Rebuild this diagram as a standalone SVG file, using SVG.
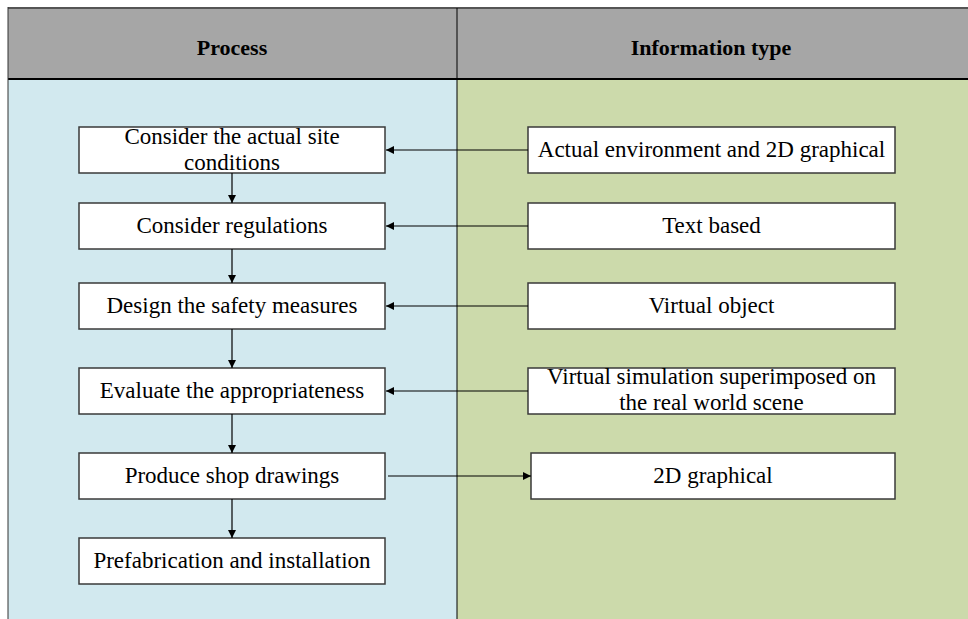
<svg xmlns="http://www.w3.org/2000/svg" width="968" height="619" viewBox="0 0 968 619">
  <style>
    .hdr { font-family: "Liberation Serif", "Times New Roman", serif; font-size: 22px; font-weight: bold; fill: #000; text-anchor: middle; }
    .lbl { font-family: "Liberation Serif", "Times New Roman", serif; font-size: 23px; fill: #000; text-anchor: middle; }
    .box { fill: #ffffff; stroke: #3a3a3a; stroke-width: 1.5; }
    .conn { stroke: #000; stroke-width: 1.2; fill: none; }
  </style>
  <defs>
    <marker id="arrow" viewBox="0 0 10 10" refX="10" refY="5" markerWidth="9" markerHeight="8" markerUnits="userSpaceOnUse" orient="auto">
      <path d="M0,0 L10,5 L0,10 Z" fill="#000"/>
    </marker>
  </defs>

  <!-- swimlane background -->
  <g id="lanes">
    <rect x="8" y="8" width="960" height="71" fill="#a6a6a6"/>
    <rect x="8" y="79" width="449" height="540" fill="#d2e9ef"/>
    <rect x="457" y="79" width="511" height="540" fill="#ccdaab"/>
    <line x1="8" y1="8" x2="968" y2="8" stroke="#555" stroke-width="2"/>
    <line x1="8" y1="79" x2="968" y2="79" stroke="#000" stroke-width="2"/>
    <line x1="8" y1="7" x2="8" y2="619" stroke="#333" stroke-width="1"/>
    <line x1="457" y1="8" x2="457" y2="619" stroke="#000" stroke-width="1"/>
    <text class="hdr" x="232" y="55">Process</text>
    <text class="hdr" x="711" y="55">Information type</text>
  </g>

  <!-- process steps -->
  <g id="p1">
    <rect class="box" x="79" y="127" width="306" height="46"/>
    <text class="lbl" x="232" y="144">Consider the actual site</text>
    <text class="lbl" x="232" y="170">conditions</text>
  </g>
  <g id="p2">
    <rect class="box" x="79" y="203" width="306" height="46"/>
    <text class="lbl" x="232" y="233">Consider regulations</text>
  </g>
  <g id="p3">
    <rect class="box" x="79" y="283" width="306" height="46"/>
    <text class="lbl" x="232" y="313">Design the safety measures</text>
  </g>
  <g id="p4">
    <rect class="box" x="79" y="368" width="306" height="46"/>
    <text class="lbl" x="232" y="398">Evaluate the appropriateness</text>
  </g>
  <g id="p5">
    <rect class="box" x="79" y="453" width="306" height="46"/>
    <text class="lbl" x="232" y="483">Produce shop drawings</text>
  </g>
  <g id="p6">
    <rect class="box" x="79" y="538" width="306" height="46"/>
    <text class="lbl" x="232" y="568">Prefabrication and installation</text>
  </g>

  <!-- information types -->
  <g id="i1">
    <rect class="box" x="528" y="127" width="367" height="46"/>
    <text class="lbl" x="711.5" y="157">Actual environment and 2D graphical</text>
  </g>
  <g id="i2">
    <rect class="box" x="528" y="203" width="367" height="46"/>
    <text class="lbl" x="711.5" y="233">Text based</text>
  </g>
  <g id="i3">
    <rect class="box" x="528" y="283" width="367" height="46"/>
    <text class="lbl" x="711.5" y="313">Virtual object</text>
  </g>
  <g id="i4">
    <rect class="box" x="528" y="368" width="367" height="46"/>
    <text class="lbl" x="711.5" y="384">Virtual simulation superimposed on</text>
    <text class="lbl" x="711.5" y="410">the real world scene</text>
  </g>
  <g id="i5">
    <rect class="box" x="531" y="453" width="364" height="46"/>
    <text class="lbl" x="713" y="483">2D graphical</text>
  </g>

  <!-- connectors -->
  <g id="connectors">
    <line class="conn" x1="232" y1="173" x2="232" y2="203" marker-end="url(#arrow)"/>
    <line class="conn" x1="232" y1="249" x2="232" y2="283" marker-end="url(#arrow)"/>
    <line class="conn" x1="232" y1="329" x2="232" y2="368" marker-end="url(#arrow)"/>
    <line class="conn" x1="232" y1="414" x2="232" y2="453" marker-end="url(#arrow)"/>
    <line class="conn" x1="232" y1="499" x2="232" y2="538" marker-end="url(#arrow)"/>

    <line class="conn" x1="528" y1="150" x2="386" y2="150" marker-end="url(#arrow)"/>
    <line class="conn" x1="528" y1="226" x2="386" y2="226" marker-end="url(#arrow)"/>
    <line class="conn" x1="528" y1="306" x2="386" y2="306" marker-end="url(#arrow)"/>
    <line class="conn" x1="528" y1="391" x2="386" y2="391" marker-end="url(#arrow)"/>
    <line class="conn" x1="388" y1="476" x2="531" y2="476" marker-end="url(#arrow)"/>
  </g>
</svg>
